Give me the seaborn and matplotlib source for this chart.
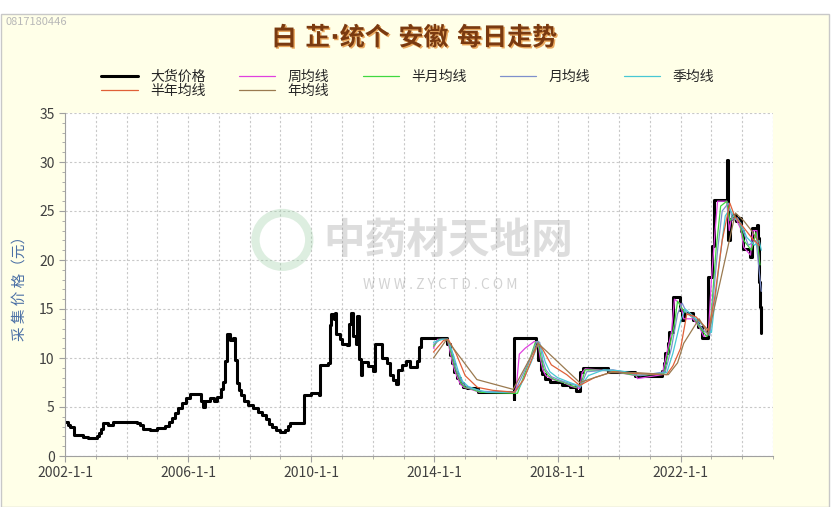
import numpy as np
import pandas as pd
import matplotlib
matplotlib.use("Agg")
import matplotlib.pyplot as plt
import matplotlib.dates as mdates
import matplotlib.patheffects as pe
from matplotlib.ticker import MultipleLocator, FuncFormatter
from matplotlib.patches import Rectangle
import seaborn as sns

# Values (x in decimal years, y in yuan).
price_year = [2002.00, 2002.10, 2002.16, 2002.30, 2002.60, 2002.75, 2003.03, 2003.10,
              2003.17, 2003.25, 2003.40, 2003.55, 2004.33, 2004.45, 2004.55, 2004.75,
              2005.00, 2005.25, 2005.38, 2005.48, 2005.58, 2005.68, 2005.80, 2005.92,
              2006.05, 2006.42, 2006.47, 2006.55, 2006.70, 2006.85, 2006.95, 2007.07,
              2007.14, 2007.20, 2007.27, 2007.37, 2007.45, 2007.53, 2007.58, 2007.65,
              2007.72, 2007.80, 2007.95, 2008.12, 2008.28, 2008.40, 2008.52, 2008.62,
              2008.72, 2008.87, 2008.98, 2009.15, 2009.25, 2009.32, 2009.78, 2010.00,
              2010.25, 2010.30, 2010.55, 2010.60, 2010.65, 2010.73, 2010.78, 2010.82,
              2010.92, 2011.00, 2011.17, 2011.22, 2011.30, 2011.36, 2011.45, 2011.50,
              2011.56, 2011.62, 2011.66, 2011.85, 2012.00, 2012.07, 2012.30, 2012.45,
              2012.55, 2012.65, 2012.74, 2012.82, 2012.95, 2013.08, 2013.20, 2013.42,
              2013.50, 2013.57, 2014.42, 2014.50, 2014.56, 2014.63, 2014.72, 2014.82,
              2014.92, 2015.05, 2015.42, 2016.58, 2016.60, 2017.31, 2017.38, 2017.45,
              2017.50, 2017.58, 2017.75, 2018.15, 2018.40, 2018.60, 2018.74, 2018.82,
              2019.65, 2020.52, 2021.40, 2021.45, 2021.50, 2021.58, 2021.63, 2021.74,
              2021.98, 2022.05, 2022.10, 2022.40, 2022.55, 2022.70, 2022.90, 2023.03,
              2023.08, 2023.50, 2023.53, 2023.60, 2023.68, 2023.80, 2023.86, 2023.95,
              2024.04, 2024.25, 2024.32, 2024.44, 2024.48, 2024.50, 2024.54, 2024.58,
              2024.62]
price_val = [3.5, 3.2, 3.0, 2.1, 1.9, 1.8, 2.0, 2.3,
             2.8, 3.4, 3.2, 3.5, 3.4, 3.2, 2.8, 2.7,
             2.9, 3.1, 3.5, 3.9, 4.4, 4.9, 5.4, 5.9,
             6.3, 5.6, 5.0, 5.6, 5.9, 5.6, 6.0, 6.8,
             7.6, 9.7, 12.4, 11.8, 12.0, 9.8, 7.5, 6.7,
             6.2, 5.6, 5.2, 4.9, 4.5, 4.2, 3.8, 3.3,
             3.0, 2.7, 2.4, 2.7, 3.1, 3.4, 6.2, 6.4,
             6.2, 9.3, 9.5, 13.4, 14.5, 14.0, 14.6, 12.4,
             11.9, 11.4, 11.3, 13.5, 14.6, 12.2, 11.4, 14.3,
             9.9, 8.3, 9.6, 9.2, 8.7, 11.4, 10.0, 9.5,
             8.3, 7.8, 7.3, 8.8, 9.3, 9.7, 9.1, 9.7,
             11.1, 12.0, 11.4, 10.3, 9.5, 8.6, 8.0, 7.4,
             7.0, 6.9, 6.5, 5.8, 12.0, 11.2, 9.8, 8.8,
             8.4, 7.9, 7.6, 7.2, 7.0, 6.6, 8.6, 9.0,
             8.6, 8.2, 8.7, 9.5, 10.5, 11.5, 12.7, 16.2,
             14.9, 13.9, 14.6, 13.9, 13.2, 12.0, 18.3, 21.4,
             26.1, 30.2, 22.0, 24.2, 24.6, 24.0, 24.3, 23.0,
             21.1, 20.3, 23.3, 22.6, 23.6, 22.2, 17.8, 15.2,
             12.6]

week_year = [2013.97, 2014.10, 2014.42, 2014.50, 2014.58, 2014.66, 2014.75, 2014.85, 2014.96,
             2015.10, 2015.47, 2016.60, 2016.66, 2016.76, 2016.95, 2017.25, 2017.36, 2017.44,
             2017.52, 2017.62, 2017.85, 2018.20, 2018.45, 2018.72, 2018.80, 2018.90, 2019.65,
             2020.55, 2020.60, 2021.40, 2021.55, 2021.70, 2021.80, 2022.00, 2022.10, 2022.40,
             2022.60, 2022.75, 2022.90, 2023.00, 2023.12, 2023.20, 2023.50, 2023.58, 2023.65,
             2023.80, 2023.95, 2024.05, 2024.27, 2024.35, 2024.48, 2024.55]
week_val = [11.0, 11.9, 11.9, 10.8, 9.6, 8.7, 8.0, 7.3, 7.0,
            6.9, 6.5, 6.5, 7.0, 10.4, 11.0, 11.7, 11.6, 10.0,
            8.8, 8.2, 7.8, 7.5, 7.1, 6.9, 8.5, 8.9, 8.7,
            8.2, 7.9, 8.3, 10.5, 12.6, 16.0, 15.5, 14.0, 14.0,
            13.2, 12.2, 12.4, 18.0, 23.0, 26.0, 26.0, 23.0, 24.3,
            24.2, 23.2, 21.3, 20.5, 23.0, 23.0, 20.0]

halfmonth_year = [2013.97, 2014.15, 2014.43, 2014.55, 2014.65, 2014.75, 2014.88, 2015.00,
                  2015.15, 2015.50, 2016.62, 2016.70, 2017.04, 2017.28, 2017.37, 2017.47,
                  2017.56, 2017.70, 2017.90, 2018.30, 2018.60, 2018.76, 2018.90, 2019.70,
                  2020.60, 2021.45, 2021.60, 2021.80, 2021.90, 2022.10, 2022.45, 2022.65,
                  2022.85, 2022.95, 2023.15, 2023.30, 2023.50, 2023.60, 2023.70, 2023.90,
                  2024.05, 2024.30, 2024.45, 2024.58]
halfmonth_val = [11.2, 11.9, 11.9, 10.5, 9.2, 8.3, 7.4, 7.0,
                 6.9, 6.5, 6.4, 6.4, 9.3, 11.6, 11.7, 10.0,
                 8.9, 8.2, 7.8, 7.4, 7.0, 7.3, 8.8, 8.7,
                 8.2, 8.4, 10.5, 13.5, 15.8, 14.8, 14.0, 13.0,
                 12.2, 12.6, 21.0, 25.5, 26.0, 24.0, 24.5, 24.0,
                 22.0, 21.0, 22.8, 19.5]

month_year = [2013.97, 2014.20, 2014.44, 2014.60, 2014.70, 2014.82, 2014.95, 2015.10,
              2015.55, 2016.62, 2016.75, 2017.10, 2017.33, 2017.42, 2017.52, 2017.62,
              2017.80, 2018.10, 2018.50, 2018.74, 2018.95, 2019.80, 2020.70, 2021.50,
              2021.70, 2021.90, 2022.05, 2022.20, 2022.50, 2022.75, 2022.95, 2023.20,
              2023.35, 2023.55, 2023.70, 2023.85, 2024.00, 2024.20, 2024.45, 2024.62]
month_val = [11.4, 11.9, 11.9, 10.3, 9.0, 8.0, 7.3, 7.0,
             6.6, 6.5, 7.5, 9.8, 11.7, 11.6, 9.8, 8.8,
             8.1, 7.7, 7.3, 7.0, 8.6, 8.8, 8.2, 8.6,
             11.0, 14.5, 15.6, 14.6, 13.9, 12.8, 12.3, 21.0,
             25.0, 25.8, 24.0, 24.3, 23.2, 21.5, 22.0, 16.8]

quarter_year = [2013.97, 2014.25, 2014.45, 2014.65, 2014.78, 2014.92, 2015.10, 2015.35,
                2015.70, 2016.62, 2016.80, 2017.15, 2017.36, 2017.45, 2017.60, 2017.75,
                2018.00, 2018.40, 2018.75, 2019.00, 2019.50, 2020.00, 2020.80, 2021.55,
                2021.75, 2022.00, 2022.15, 2022.40, 2022.70, 2023.00, 2023.25, 2023.45,
                2023.60, 2023.75, 2023.95, 2024.15, 2024.40, 2024.55, 2024.62]
quarter_val = [11.6, 11.9, 11.9, 10.0, 8.6, 7.6, 7.1, 6.8,
               6.5, 6.5, 7.2, 9.6, 11.4, 11.3, 9.6, 8.6,
               8.0, 7.5, 7.1, 8.2, 8.8, 8.7, 8.3, 8.5,
               10.5, 13.8, 15.0, 14.3, 13.4, 12.6, 19.5, 24.5,
               25.2, 24.3, 23.8, 22.3, 21.5, 22.0, 21.0]

halfyear_year = [2013.97, 2014.30, 2014.45, 2014.70, 2015.00, 2015.40, 2015.90, 2016.60,
                 2016.90, 2017.37, 2017.50, 2017.80, 2018.30, 2018.72, 2019.20, 2019.80,
                 2020.60, 2021.55, 2021.75, 2022.00, 2022.20, 2022.50, 2022.90, 2023.10,
                 2023.35, 2023.60, 2023.75, 2024.00, 2024.30, 2024.55]
halfyear_val = [10.6, 11.8, 11.9, 10.5, 8.2, 7.0, 6.7, 6.5,
                7.8, 11.5, 11.0, 9.3, 8.3, 7.2, 8.0, 8.6,
                8.4, 8.3, 9.2, 11.0, 14.5, 14.2, 12.8, 16.0,
                22.0, 25.8, 24.5, 23.5, 22.3, 21.5]

year_year = [2013.97, 2014.40, 2015.38, 2016.56, 2017.37, 2018.72, 2019.70, 2020.60,
             2021.60, 2021.90, 2022.10, 2022.60, 2022.90, 2023.30, 2023.78, 2024.05,
             2024.30, 2024.55]
year_val = [10.0, 11.9, 7.8, 6.8, 11.5, 7.5, 8.5, 8.5,
            8.3, 9.5, 11.5, 14.0, 12.4, 18.0, 24.8, 24.0,
            23.0, 21.8]

tick_years = [2002, 2006, 2010, 2014, 2018, 2022]


def to_date(years):
    years = np.asarray(years, dtype=float)
    return pd.Timestamp("2002-01-01") + pd.to_timedelta((years - 2002) * 365.25, unit="D")


sns.set_style("white")
plt.rcParams["font.family"] = ["Noto Sans CJK SC", "DejaVu Sans"]

fig = plt.figure(figsize=(8.37, 5.07), dpi=100)
fig.patch.set_facecolor("white")
fig.add_artist(Rectangle((0.001, 0.0), 828 / 837, 493 / 507, transform=fig.transFigure,
                         facecolor="#FFFFE8", edgecolor="#C8C8C8", lw=1, zorder=-10))
ax = fig.add_axes([65 / 837, 51 / 507, 708 / 837, 343 / 507])
ax.set_facecolor("white")

# price (step line)
sns.lineplot(x=to_date(price_year), y=price_val, ax=ax, color="black", lw=2.2,
             drawstyle="steps-post", estimator=None, label="大货价格", zorder=2)

ma_series = [
    ("周均线", week_year, week_val, "#E040E0"),
    ("半月均线", halfmonth_year, halfmonth_val, "#40D840"),
    ("月均线", month_year, month_val, "#7F90CC"),
    ("季均线", quarter_year, quarter_val, "#48C8D4"),
    ("半年均线", halfyear_year, halfyear_val, "#E06038"),
    ("年均线", year_year, year_val, "#9A7A50"),
]
for name, xs, ys, col in ma_series:
    sns.lineplot(x=to_date(xs), y=ys, ax=ax, color=col, lw=0.9,
                 estimator=None, label=name, zorder=3)

ax.set_xlim(pd.Timestamp("2002-01-01"), pd.Timestamp("2025-01-01"))
ax.set_ylim(0, 35)
ax.yaxis.set_major_locator(MultipleLocator(5))
ax.yaxis.set_minor_locator(MultipleLocator(1))
ax.set_xticks([pd.Timestamp(f"{y}-01-01") for y in tick_years])
ax.xaxis.set_minor_locator(mdates.YearLocator(1))
ax.xaxis.set_major_formatter(FuncFormatter(
    lambda v, pos: f"{mdates.num2date(v).year}-1-1"))
ax.grid(which="major", color="#C8C8C8", ls=(0, (2, 2)), lw=0.8)
ax.grid(which="minor", axis="x", color="#C8C8C8", ls=(0, (2, 2)), lw=0.8)
ax.tick_params(axis="both", which="major", length=4, color="#A0A0A0",
               labelsize=10, labelcolor="#404040", left=True, bottom=True)
ax.tick_params(axis="both", which="minor", length=2, color="#A0A0A0", left=True, bottom=True)
for side in ["top", "right"]:
    ax.spines[side].set_visible(False)
for side in ["left", "bottom"]:
    ax.spines[side].set_color("#A0A0A0")
ax.set_xlabel("")
ax.set_ylabel("")

# legend, reordered so it reads row by row
handles, labels = ax.get_legend_handles_labels()
ax.get_legend().remove()
order = [0, 5, 1, 6, 2, 3, 4]
fig.legend([handles[i] for i in order], [labels[i] for i in order],
           loc="center", bbox_to_anchor=(0.487, 0.835), ncol=5, frameon=False,
           fontsize=10, handlelength=2.6, columnspacing=2.4, labelspacing=0.0,
           handletextpad=0.9)

# title, labels and watermark
fig.text(0.495, 1 - 38 / 507, "白 芷·统个 安徽 每日走势", ha="center", va="center",
         fontsize=18, fontweight="bold", color="#7A3A10",
         family=["DejaVu Sans", "Noto Sans CJK SC"],
         path_effects=[pe.withSimplePatchShadow(offset=(1, -1), shadow_rgbFace="#E8A050", alpha=0.9)])
fig.text(5 / 837, 1 - 22 / 507, "0817180446", color="#B8B8B8", fontsize=8, va="center")
fig.text(20 / 837, 1 - 285 / 507, "采 集 价 格（元）", rotation=90, ha="center", va="center",
         color="#4A6FA5", fontsize=10.5)

ax.text(0.541, 0.627, "中药材天地网", transform=ax.transAxes, ha="center", va="center",
        fontsize=30, color="#909090", alpha=0.3, fontweight="bold", zorder=1)
ax.text(0.53, 0.499, "W W W . Z Y C T D . C O M", transform=ax.transAxes, ha="center",
        va="center", fontsize=10, color="#909090", alpha=0.4, zorder=1)
ax.scatter([0.307], [0.63], transform=ax.transAxes, s=1500, facecolors="none",
           edgecolors="#9FD0A8", linewidths=6, alpha=0.35, zorder=1)

fig.savefig("out.png", dpi=100)
